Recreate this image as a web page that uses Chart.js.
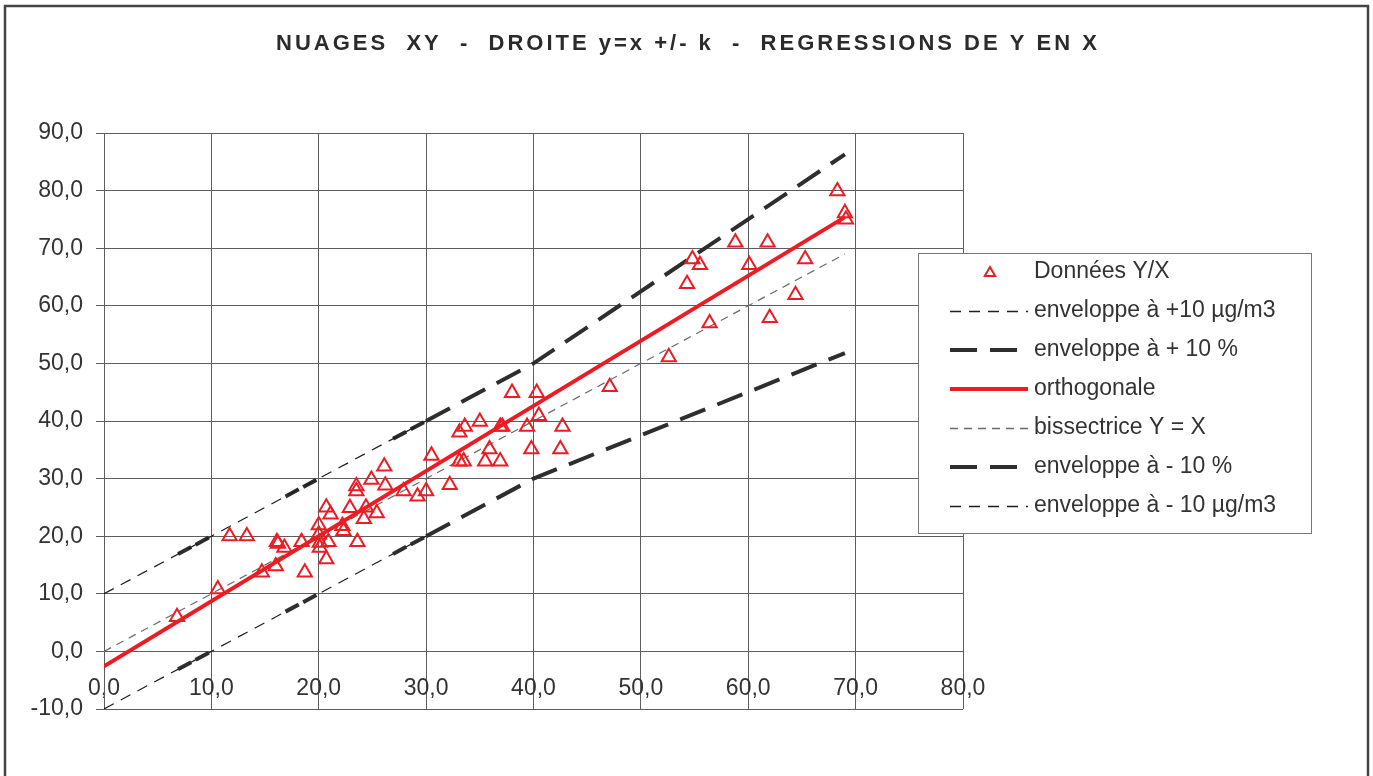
<!DOCTYPE html>
<html lang="fr">
<head>
<meta charset="utf-8">
<title>Nuages XY</title>
<script src="https://cdn.jsdelivr.net/npm/chart.js@4.4.0/dist/chart.umd.min.js"></script>
<style>
  html, body { margin: 0; padding: 0; background: #fff; }
  canvas { display: block; }
</style>
</head>
<body>
<canvas id="graphe" width="1373" height="776"></canvas>
<script>
// Nuage de points Y/X
const donneesX = [6.8, 10.6, 11.7, 13.3, 14.7, 16.0, 16.1, 16.2, 16.8, 18.4, 18.7,
  20.0, 20.0, 20.1, 20.1, 20.7, 21.1, 20.9, 20.7, 22.2, 22.3, 22.9, 23.5, 23.5, 23.6,
  24.2, 24.4, 24.9, 25.4, 26.1, 26.2, 27.9, 29.2, 30.0, 30.5, 32.2, 33.1, 33.1, 33.5,
  33.6, 35.0, 35.9, 35.5, 36.9, 36.9, 37.1, 38.0, 39.4, 39.8, 40.3, 40.5, 42.7, 42.5,
  47.1, 52.6, 54.3, 54.8, 55.5, 56.4, 58.8, 60.1, 61.8, 62.0, 64.4, 65.3, 68.3, 69.0, 69.1];
const donneesY = [6.0, 10.8, 20.0, 20.0, 13.7, 14.8, 19.0, 18.7, 18.0, 19.0, 13.7,
  21.9, 20.3, 18.9, 18.0, 25.0, 23.8, 19.0, 16.0, 21.8, 20.9, 24.9, 28.7, 27.8, 19.0,
  23.0, 25.0, 29.8, 24.0, 32.1, 28.8, 27.8, 26.9, 27.8, 34.0, 28.9, 38.0, 33.0, 33.0,
  39.0, 39.9, 35.1, 33.0, 33.0, 39.0, 39.0, 44.9, 39.0, 35.1, 44.9, 40.9, 39.0, 35.1,
  45.9, 51.1, 63.8, 68.1, 67.1, 57.0, 71.0, 67.1, 71.0, 57.9, 61.9, 68.1, 79.9, 76.1, 75.0];

// enveloppes +/- 10 µg/m3
const envUgX = [0, 30];
const envPlusUg = [10, 40];
const envMoinsUg = [-10, 20];

// enveloppes +/- 10 %
const envPctX = [0, 30, 40, 69];
const envPlusPct = [10, 40, 50, 86.3];
const envMoinsPct = [-10, 20, 30, 51.8];

// orthogonale et bissectrice
const orthoX = [0, 69];
const orthoY = [-2.6, 75.4];
const bissX = [0, 69];
const bissY = [0, 69];

// graduations
const xTicks = [0, 10, 20, 30, 40, 50, 60, 70, 80];
const yTicks = [-10, 0, 10, 20, 30, 40, 50, 60, 70, 80, 90];

const TITRE = 'NUAGES  XY  -  DROITE y=x +/- k  -  REGRESSIONS DE Y EN X';
const POLICE = '"Liberation Sans", Arial, sans-serif';
const ROUGE = '#ec1c24';
const GRIS_GRILLE = '#5e5e5e';

const pts = (xs, ys) => xs.map((x, i) => ({ x: x, y: ys[i] }));
const virgule = v => Number(v).toFixed(1).replace('.', ',');

// tirets espacés tant que l'enveloppe % suit la droite +/-10
const tiretsPct = [27, 13];
const segPct = {
  borderDash: c => c.p0.parsed.x < 30 ? [15, 5, 15, 87] : tiretsPct,
  borderDashOffset: c => c.p0.parsed.x < 30 ? 38 : 0
};

const fondEtTitre = {
  id: 'fondEtTitre',
  beforeDraw(chart) {
    const ctx = chart.ctx;
    ctx.save();
    ctx.fillStyle = '#fff';
    ctx.fillRect(0, 0, chart.width, chart.height);
    ctx.strokeStyle = '#444';
    ctx.lineWidth = 2.5;
    ctx.strokeRect(5, 6, 1363, 820);
    ctx.fillStyle = '#2b2b2b';
    ctx.font = 'bold 22px ' + POLICE;
    ctx.letterSpacing = '3px';
    ctx.textAlign = 'center';
    ctx.textBaseline = 'middle';
    ctx.fillText(TITRE, 688, 44);
    ctx.restore();
  }
};

// légende encadrée, posée sur la zone de tracé
const legendeCadre = {
  id: 'legendeCadre',
  afterDraw(chart) {
    const ctx = chart.ctx;
    const x0 = 918, y0 = 253, w = 393, h = 280;
    ctx.save();
    ctx.fillStyle = '#fff';
    ctx.fillRect(x0, y0, w, h);
    ctx.strokeStyle = '#777';
    ctx.lineWidth = 1;
    ctx.strokeRect(x0 + 0.5, y0 + 0.5, w, h);
    ctx.font = '23px ' + POLICE;
    ctx.textBaseline = 'middle';
    chart.data.datasets.forEach((ds, i) => {
      const y = 272 + i * 39;
      if (ds.showLine === false) {
        // petit triangle creux
        const r = 6;
        const cx = 990, cy = y + 1;
        ctx.strokeStyle = ds.borderColor;
        ctx.lineWidth = 2;
        ctx.setLineDash([]);
        ctx.beginPath();
        ctx.moveTo(cx, cy - r);
        ctx.lineTo(cx + Math.sin(2 * Math.PI / 3) * r, cy + r / 2);
        ctx.lineTo(cx - Math.sin(2 * Math.PI / 3) * r, cy + r / 2);
        ctx.closePath();
        ctx.stroke();
      } else {
        const yl = ds.borderWidth < 2 ? y + 0.5 : y;
        ctx.strokeStyle = ds.borderColor;
        ctx.lineWidth = ds.borderWidth < 2 ? 1.5 : ds.borderWidth;
        ctx.setLineDash(ds.borderDash || []);
        ctx.beginPath();
        ctx.moveTo(950, yl);
        ctx.lineTo(1028, yl);
        ctx.stroke();
        ctx.setLineDash([]);
      }
      ctx.fillStyle = '#333';
      ctx.fillText(ds.label, 1034, y);
    });
    ctx.restore();
  }
};

Chart.defaults.font.family = POLICE;
Chart.defaults.font.size = 23;
Chart.defaults.color = '#333';

new Chart(document.getElementById('graphe'), {
  type: 'scatter',
  data: {
    datasets: [
      {
        label: 'Données Y/X',
        data: pts(donneesX, donneesY),
        showLine: false,
        pointStyle: 'triangle',
        pointRadius: 8.2,
        pointBorderWidth: 2,
        borderColor: ROUGE,
        pointBorderColor: ROUGE,
        pointBackgroundColor: 'rgba(0,0,0,0)'
      },
      {
        label: 'enveloppe à +10 µg/m3',
        data: pts(envUgX, envPlusUg),
        showLine: true,
        borderColor: '#1e1e1e',
        borderWidth: 1.2,
        borderDash: [11, 8],
        pointRadius: 0
      },
      {
        label: 'enveloppe à + 10 %',
        data: pts(envPctX, envPlusPct),
        showLine: true,
        borderColor: '#2e2e2e',
        borderWidth: 4,
        borderDash: tiretsPct,
        segment: segPct,
        pointRadius: 0
      },
      {
        label: 'orthogonale',
        data: pts(orthoX, orthoY),
        showLine: true,
        borderColor: ROUGE,
        borderWidth: 4,
        pointRadius: 0
      },
      {
        label: 'bissectrice Y = X',
        data: pts(bissX, bissY),
        showLine: true,
        borderColor: '#6a6a6a',
        borderWidth: 1.2,
        borderDash: [8, 6],
        pointRadius: 0
      },
      {
        label: 'enveloppe à - 10 %',
        data: pts(envPctX, envMoinsPct),
        showLine: true,
        borderColor: '#2e2e2e',
        borderWidth: 4,
        borderDash: tiretsPct,
        segment: segPct,
        pointRadius: 0
      },
      {
        label: 'enveloppe à - 10 µg/m3',
        data: pts(envUgX, envMoinsUg),
        showLine: true,
        borderColor: '#1e1e1e',
        borderWidth: 1.2,
        borderDash: [11, 8],
        pointRadius: 0
      }
    ]
  },
  options: {
    responsive: false,
    animation: false,
    layout: { padding: { top: 133, right: 410, bottom: 67, left: 0 } },
    plugins: {
      legend: { display: false },
      title: { display: false },
      tooltip: { enabled: false }
    },
    scales: {
      x: {
        type: 'linear',
        position: { y: 0 },
        min: 0,
        max: 80,
        afterBuildTicks: s => { s.ticks = xTicks.map(v => ({ value: v })); },
        ticks: { callback: virgule, padding: 23, maxRotation: 0, color: '#333' },
        grid: { color: GRIS_GRILLE, lineWidth: 1, drawTicks: false },
        border: { color: GRIS_GRILLE }
      },
      y: {
        type: 'linear',
        position: 'left',
        min: -10,
        max: 90,
        afterBuildTicks: s => { s.ticks = yTicks.map(v => ({ value: v })); },
        afterFit: s => { s.width = 104; },
        ticks: { callback: virgule, padding: 13, color: '#333' },
        grid: { color: GRIS_GRILLE, lineWidth: 1, tickLength: 8, tickColor: GRIS_GRILLE },
        border: { color: GRIS_GRILLE }
      }
    }
  },
  plugins: [fondEtTitre, legendeCadre]
});
</script>
</body>
</html>
